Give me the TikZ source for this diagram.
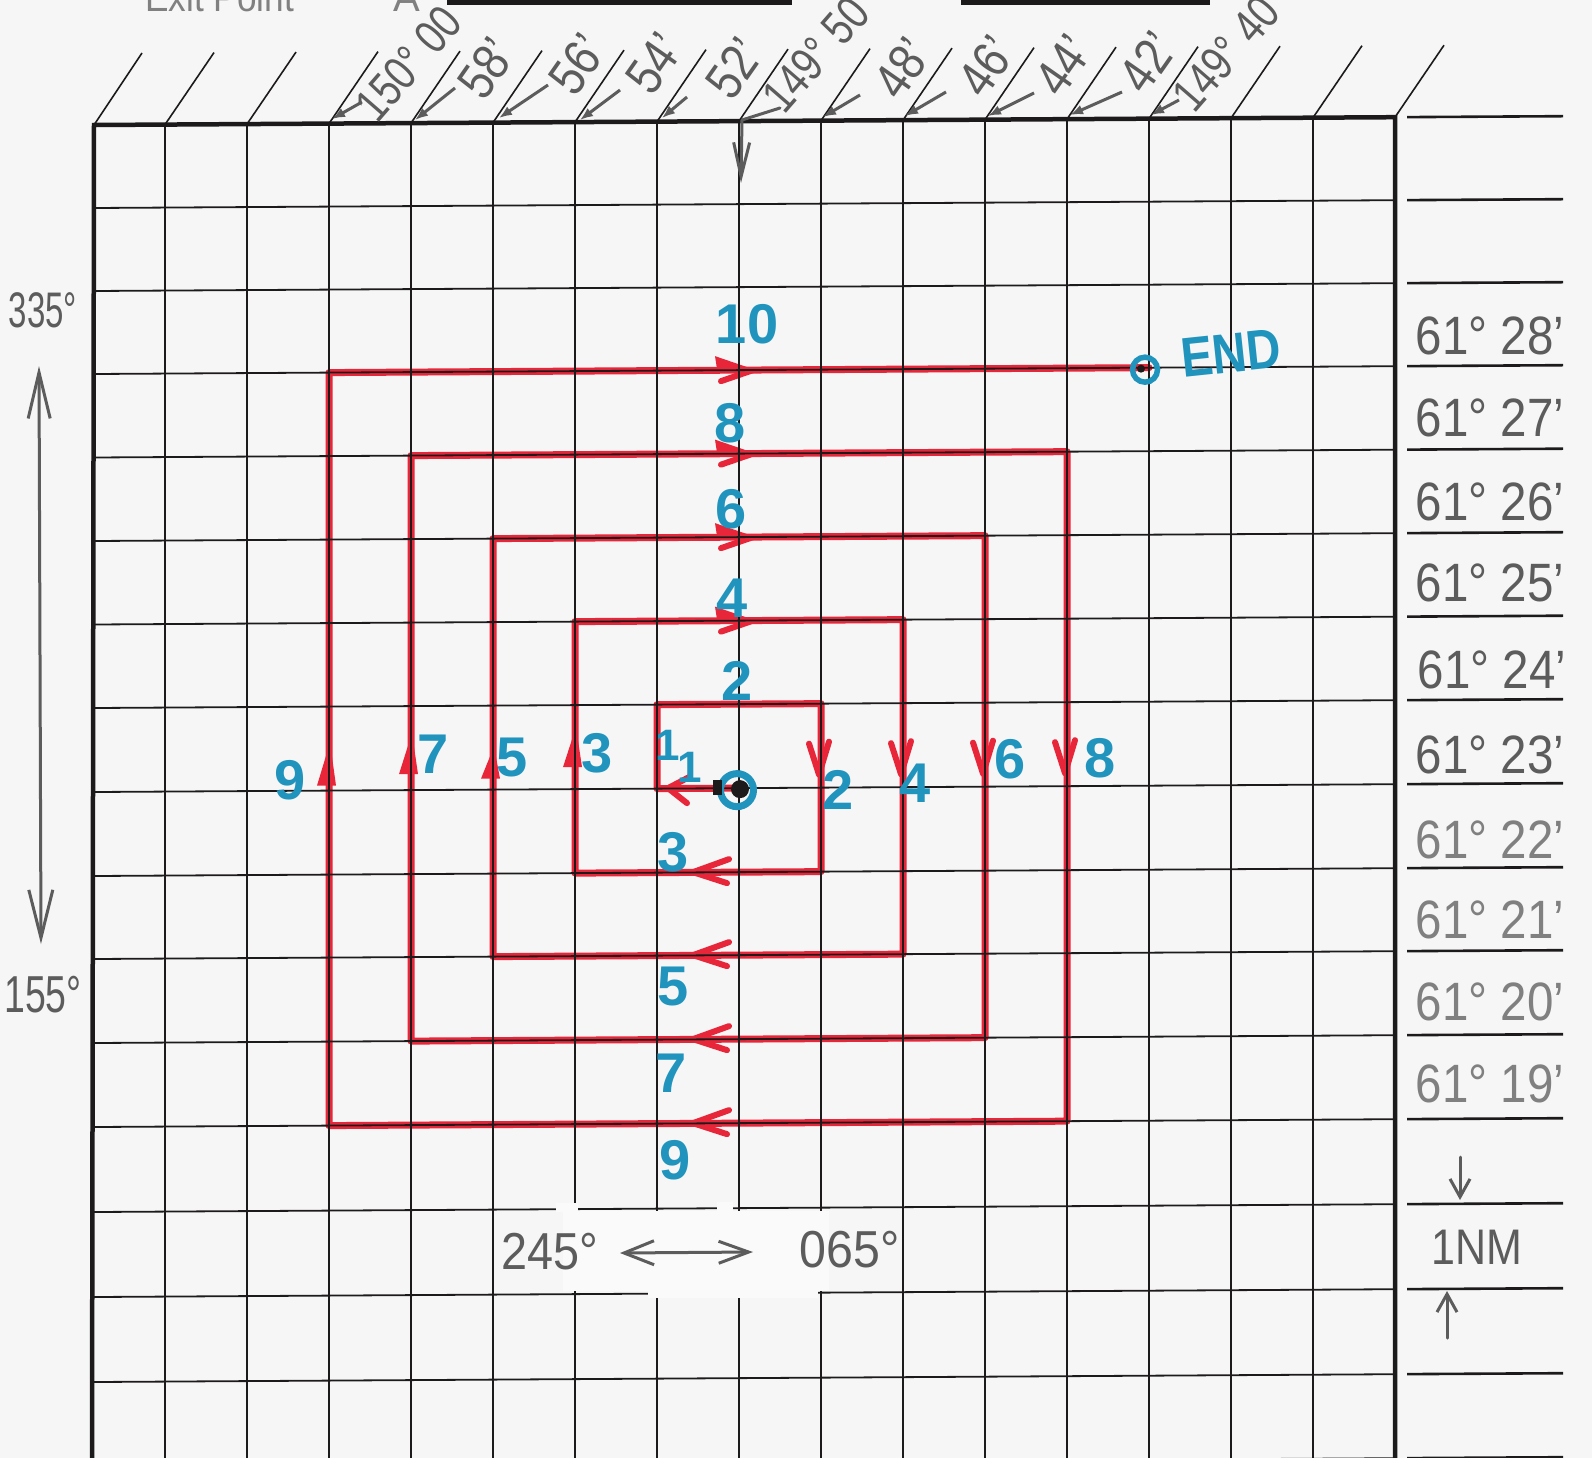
\documentclass[tikz,border=0pt]{standalone}
\usepackage{fontspec}
\usepackage{graphicx}
\setmainfont{Liberation Sans}
\usetikzlibrary{arrows.meta,calc}
\definecolor{mred}{RGB}{232,38,58}
\definecolor{mblue}{RGB}{33,148,190}
\definecolor{pencil}{RGB}{92,92,92}
\definecolor{pencillt}{RGB}{128,128,128}
\definecolor{paper}{RGB}{246,246,246}
\definecolor{ink}{RGB}{28,26,26}
\definecolor{tape}{RGB}{250,250,250}
\tikzset{
  gridthin/.style={draw=ink, line width=1.8pt},
  gridthick/.style={draw=ink, line width=4.5pt, line join=miter},
  slant/.style={draw=ink, line width=1.6pt},
  rcol/.style={draw=ink, line width=2.6pt},
  redpath/.style={draw=mred, line width=7pt, line join=round, line cap=round},
  redmark/.style={draw=mred, line width=6pt, line cap=round, line join=round},
  bluenum/.style={text=mblue, font=\fontsize{56}{56}\selectfont\bfseries, inner sep=0pt},
  bluesmall/.style={text=mblue, font=\fontsize{44}{44}\selectfont\bfseries, inner sep=0pt},
  bluering/.style={circle, draw=mblue, inner sep=0pt},
  pencilR/.style={text=pencil, font=\fontsize{54}{54}\selectfont, inner sep=0pt},
  pencilM/.style={text=pencil, font=\fontsize{52}{52}\selectfont, inner sep=0pt, rotate=55},
  pencilL/.style={text=pencil, font=\fontsize{48}{48}\selectfont, inner sep=0pt, rotate=49},
  pencilarrow/.style={draw=pencil, line width=3pt, -{Latex[length=13pt,width=10pt]}},
  pencilline/.style={draw=pencil, line width=3pt, line cap=round},
}
\begin{document}
\begin{tikzpicture}[x=1pt,y=-1pt]
\useasboundingbox (0,0) rectangle (1592,1458);
\clip (0,0) rectangle (1592,1458);
\fill[paper] (0,0) rectangle (1592,1458);

\def\Ytab{{125,208,291,374,457.5,541,624.5,708,792,876,959,1043,1127,1212,1297,1382,1466}}
\foreach \k in {0,...,15}{
  \foreach \j in {0,...,16}{
    \pgfmathsetmacro\xx{165+82*\k}
    \pgfmathsetmacro\yy{\Ytab[\j]-0.006*(\xx-94)}
    \coordinate (g\k-\j) at (\xx,\yy);
  }
}
\foreach \j in {0,...,16}{
  \pgfmathsetmacro\yy{\Ytab[\j]}
  \pgfmathsetmacro\ya{\Ytab[\j]-0.006*(1407-94)}
  \pgfmathsetmacro\yb{\Ytab[\j]-0.006*(1563-94)}
  \coordinate (L\j) at (94,\yy);
  \coordinate (ra\j) at (1407,\ya);
  \coordinate (rb\j) at (1563,\yb);
}
\coordinate (Lbot) at (92,1466);

% header remnants
\node[anchor=base west, text=pencillt, font=\fontsize{40}{40}\selectfont, inner sep=0pt] (hdr) at (145,12) {\scalebox{0.88}[1]{Exit Point}};
\node[anchor=base west, text=pencillt, font=\fontsize{40}{40}\selectfont, inner sep=0pt] (hdrA) at (393,12) {A};
\draw[ink, line width=6pt] (447,2) -- (792,2);
\draw[ink, line width=6pt] (961,2) -- (1210,2);

% red search spiral
\draw[redpath] (g7-8) -- (g6-8) -- (g6-7) -- (g8-7) -- (g8-9) -- (g5-9) -- (g5-6) -- (g9-6) -- (g9-10) -- (g4-10) -- (g4-5) -- (g10-5) -- (g10-11) -- (g3-11) -- (g3-4) -- (g11-4) -- (g11-12) -- (g2-12) -- (g2-3) -- (g12-3);

% red direction marks
\draw[redmark] ($(g7-8)+(-50,-11)$) -- ($(g7-8)+(-71,0)$) -- ($(g7-8)+(-52,15)$);
\fill[mred] ($(g2-8)+(1,-48)$) -- ($(g2-8)+(-12,-5)$) -- ($(g2-8)+(7,-5)$) -- cycle;
\fill[mred] ($(g3-8)+(1,-57)$) -- ($(g3-8)+(-12,-16)$) -- ($(g3-8)+(7,-16)$) -- cycle;
\fill[mred] ($(g4-8)+(1,-43)$) -- ($(g4-8)+(-12,-11)$) -- ($(g4-8)+(7,-11)$) -- cycle;
\fill[mred] ($(g5-8)+(1,-62)$) -- ($(g5-8)+(-12,-22)$) -- ($(g5-8)+(7,-22)$) -- cycle;
\foreach \k in {8,...,11}
  \draw[redmark] ($(g\k-8)+(-12,-44)$) -- ($(g\k-8)+(-2,-13)$) -- ($(g\k-8)+(8,-46)$);
\foreach \j in {3,...,6}{
  \fill[mred] ($(g7-\j)+(-24,-14)$) -- ($(g7-\j)+(14,-1)$) -- ($(g7-\j)+(-22,-1)$) -- cycle;
  \draw[redmark] ($(g7-\j)+(14,0)$) -- ($(g7-\j)+(-18,11)$);
}
\foreach \j in {9,...,12}
  \draw[redmark] ($(g7-\j)+(-10,-13)$) -- ($(g7-\j)+(-46,0)$) -- ($(g7-\j)+(-12,11)$);

% grid
\foreach \k in {0,...,14} \draw[gridthin] (g\k-0) -- (g\k-16);
\foreach \j in {1,...,16} \draw[gridthin] (L\j) -- (g15-\j);
\draw[gridthick] (Lbot) -- (L0) -- (g15-0) -- (g15-16);
\draw[slant] (L0) -- ++(48,-72);
\foreach \k in {0,...,15} \draw[slant] (g\k-0) -- ++(49,-72);
\foreach \j in {0,...,16} \draw[rcol] (ra\j) -- (rb\j);

% correction tape patches near the bearing labels
\fill[tape] (563,1211) rectangle (829,1291);
\fill[tape] (556,1203) rectangle (578,1212);
\fill[tape] (717,1202) rectangle (733,1212);
\fill[tape] (648,1288) rectangle (818,1298);

% blue start and end markers
\node[bluering, line width=7pt, minimum size=33pt] (start) at ($(g7-8)+(-2,2)$) {};
\fill[ink] ($(g7-8)+(1,1)$) circle[radius=9pt];
\fill[ink] ($(g7-8)+(-26,-8)$) rectangle ($(g7-8)+(-17,7)$);
\node[bluering, line width=5.5pt, minimum size=25pt] (endc) at ($(g12-3)+(-4,2)$) {};
\fill[ink] ($(g12-3)+(-8,1)$) circle[radius=4pt];
\node[bluenum, rotate=6] (endl) at (1231,353) {\scalebox{0.85}[1]{END}};

% blue leg lengths
\node[bluesmall] (n1a) at (690,767) {1};
\node[bluesmall] (n1b) at (668,745) {1};
\node[bluenum] (n2t) at (737,681) {2};
\node[bluenum] (n2r) at (838,790) {2};
\node[bluenum] (n3b) at (673,852) {3};
\node[bluenum] (n3l) at (597,753) {3};
\node[bluenum] (n4t) at (732,598) {4};
\node[bluenum] (n4r) at (915,783) {4};
\node[bluenum] (n5b) at (673,986) {5};
\node[bluenum] (n5l) at (512,758) {5};
\node[bluenum] (n6t) at (731,509) {6};
\node[bluenum] (n6r) at (1010,759) {6};
\node[bluenum] (n7b) at (671,1073) {7};
\node[bluenum] (n7l) at (433,754) {7};
\node[bluenum] (n8t) at (730,423) {8};
\node[bluenum] (n8r) at (1100,758) {8};
\node[bluenum] (n9b) at (675,1160) {9};
\node[bluenum] (n9l) at (290,780) {9};
\node[bluenum] (n10) at (747,324) {10};

% top longitude labels
\draw[pencilarrow] (362,102) -- (332,119);
\draw[pencilarrow] (455,88) -- (415,120);
\draw[pencilarrow] (548,85) -- (499,118);
\draw[pencilarrow] (620,90) -- (580,120);
\draw[pencilarrow] (687,97) -- (662,118);
\draw[pencilline] (780,108) -- (742,120);
\draw[pencilline, -{Straight Barb[length=34pt,width=16pt]}] (742,120) -- (741,183);
\draw[pencilarrow] (860,95) -- (823,117);
\draw[pencilarrow] (946,92) -- (905,116);
\draw[pencilarrow] (1034,93) -- (988,116);
\draw[pencilarrow] (1122,92) -- (1070,115);
\draw[pencilarrow] (1179,100) -- (1151,115);
\node[pencilL] (t150) at (409,64) {\scalebox{0.8}[1]{150° 00}};
\node[pencilM] (t58) at (487,68) {\scalebox{0.85}[1]{58'}};
\node[pencilM] (t56) at (578,64) {\scalebox{0.85}[1]{56'}};
\node[pencilM] (t54) at (655,63) {\scalebox{0.85}[1]{54'}};
\node[pencilM] (t52) at (735,68) {\scalebox{0.85}[1]{52'}};
\node[pencilL] (t14950) at (816,55) {\scalebox{0.8}[1]{149° 50}};
\node[pencilM] (t48) at (903,68) {\scalebox{0.85}[1]{48'}};
\node[pencilM] (t46) at (987,66) {\scalebox{0.85}[1]{46'}};
\node[pencilM] (t44) at (1064,65) {\scalebox{0.85}[1]{44'}};
\node[pencilM] (t42) at (1148,62) {\scalebox{0.85}[1]{42'}};
\node[pencilL] (t14940) at (1226,54) {\scalebox{0.8}[1]{149° 40}};

% right latitude labels
\node[pencilR] (l28) at (1490,336) {\scalebox{0.88}[1]{61° 28'}};
\node[pencilR] (l27) at (1490,418) {\scalebox{0.88}[1]{61° 27'}};
\node[pencilR] (l26) at (1490,502) {\scalebox{0.88}[1]{61° 26'}};
\node[pencilR] (l25) at (1490,583) {\scalebox{0.88}[1]{61° 25'}};
\node[pencilR] (l24) at (1492,670) {\scalebox{0.88}[1]{61° 24'}};
\node[pencilR] (l23) at (1490,755) {\scalebox{0.88}[1]{61° 23'}};
\node[pencilR, text=pencillt] (l22) at (1490,840) {\scalebox{0.88}[1]{61° 22'}};
\node[pencilR, text=pencillt] (l21) at (1490,920) {\scalebox{0.88}[1]{61° 21'}};
\node[pencilR, text=pencillt] (l20) at (1490,1002) {\scalebox{0.88}[1]{61° 20'}};
\node[pencilR, text=pencillt] (l19) at (1490,1084) {\scalebox{0.88}[1]{61° 19'}};

% 1 NM scale
\coordinate (nmA) at (1460,1157);
\coordinate (nmB) at (1460,1200);
\coordinate (nmC) at (1447,1338);
\coordinate (nmD) at (1447,1291);
\draw[pencilline, -{Straight Barb[length=18pt,width=20pt]}] (nmA) -- (nmB);
\draw[pencilline, -{Straight Barb[length=18pt,width=20pt]}] (nmC) -- (nmD);
\node[pencilR, font=\fontsize{50}{50}\selectfont] (nm) at (1477,1247) {\scalebox{0.86}[1]{1NM}};

% left bearing labels
\node[pencilR, font=\fontsize{50}{50}\selectfont] (b335) at (43,310) {\scalebox{0.66}[1]{335°}};
\node[pencilR, font=\fontsize{52}{52}\selectfont] (b155) at (43,995) {\scalebox{0.72}[1]{155°}};
\coordinate (lbA) at (39,366);
\coordinate (lbB) at (41,944);
\draw[pencilline, {Straight Barb[length=46pt,width=22pt]}-{Straight Barb[length=48pt,width=24pt]}] (lbA) -- (lbB);

% bottom bearing labels
\node[pencilR, font=\fontsize{52}{52}\selectfont] (b245) at (550,1252) {\scalebox{0.9}[1]{245°}};
\node[pencilR, font=\fontsize{52}{52}\selectfont] (b065) at (850,1250) {\scalebox{0.93}[1]{065°}};
\coordinate (baA) at (620,1253);
\coordinate (baB) at (753,1252);
\draw[pencilline, {Straight Barb[length=30pt,width=24pt]}-{Straight Barb[length=30pt,width=22pt]}] (baA) -- (baB);
\end{tikzpicture}
\end{document}
